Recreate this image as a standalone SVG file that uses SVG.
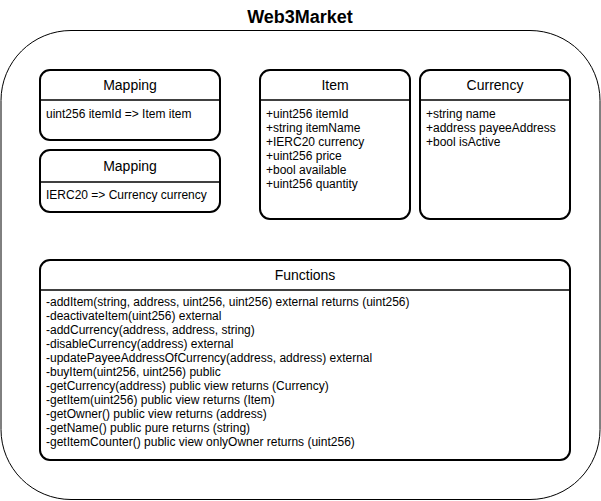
<svg xmlns="http://www.w3.org/2000/svg" width="601" height="501" viewBox="0 0 601 501">
<style>
.box{fill:#fff;stroke:#000;stroke-width:2}
.div{stroke:#000;stroke-width:1.5}
.h{font-family:"Liberation Sans",Arial,sans-serif;font-size:14px;text-anchor:middle;fill:#000}
.t{font-family:"Liberation Sans",Arial,sans-serif;font-size:12px;fill:#000}
.title{font-family:"Liberation Sans",Arial,sans-serif;font-size:18px;font-weight:bold;text-anchor:middle;fill:#000}
</style>
<rect width="601" height="501" fill="#fff"/>
<g id="web3market">
<rect x="1" y="30.5" width="599" height="469" rx="70" ry="70" fill="#fff" stroke="#000" stroke-width="1"/>
<text class="title" x="300" y="23">Web3Market</text>
</g>
<g id="mapping1">
<rect class="box" x="40" y="70" width="180" height="70" rx="10"/>
<line class="div" x1="40" y1="100" x2="220" y2="100"/>
<text class="h" x="130" y="90">Mapping</text>
<text class="t" x="46" y="118">uint256 itemId =&gt; Item item</text>
</g>
<g id="mapping2">
<rect class="box" x="40" y="150" width="180" height="62" rx="10"/>
<line class="div" x1="40" y1="182" x2="220" y2="182"/>
<text class="h" x="130" y="171">Mapping</text>
<text class="t" x="46" y="199">IERC20 =&gt; Currency currency</text>
</g>
<g id="item">
<rect class="box" x="260" y="70" width="150" height="149" rx="10"/>
<line class="div" x1="260" y1="100" x2="410" y2="100"/>
<text class="h" x="335" y="90">Item</text>
<text class="t" x="266" y="118">+uint256 itemId</text>
<text class="t" x="266" y="132">+string itemName</text>
<text class="t" x="266" y="146">+IERC20 currency</text>
<text class="t" x="266" y="160">+uint256 price</text>
<text class="t" x="266" y="174">+bool available</text>
<text class="t" x="266" y="188">+uint256 quantity</text>
</g>
<g id="currency">
<rect class="box" x="420" y="70" width="150" height="149" rx="10"/>
<line class="div" x1="420" y1="100" x2="570" y2="100"/>
<text class="h" x="495" y="90">Currency</text>
<text class="t" x="426" y="118">+string name</text>
<text class="t" x="426" y="132">+address payeeAddress</text>
<text class="t" x="426" y="146">+bool isActive</text>
</g>
<g id="functions">
<rect class="box" x="40" y="260" width="530" height="200" rx="10"/>
<line class="div" x1="40" y1="290" x2="570" y2="290"/>
<text class="h" x="305" y="280">Functions</text>
<text class="t" x="46" y="306">-addItem(string, address, uint256, uint256) external returns (uint256)</text>
<text class="t" x="46" y="320">-deactivateItem(uint256) external</text>
<text class="t" x="46" y="334">-addCurrency(address, address, string)</text>
<text class="t" x="46" y="348">-disableCurrency(address) external</text>
<text class="t" x="46" y="362">-updatePayeeAddressOfCurrency(address, address) external</text>
<text class="t" x="46" y="376">-buyItem(uint256, uint256) public</text>
<text class="t" x="46" y="390">-getCurrency(address) public view returns (Currency)</text>
<text class="t" x="46" y="404">-getItem(uint256) public view returns (Item)</text>
<text class="t" x="46" y="418">-getOwner() public view returns (address)</text>
<text class="t" x="46" y="432">-getName() public pure returns (string)</text>
<text class="t" x="46" y="446">-getItemCounter() public view onlyOwner returns (uint256)</text>
</g>
<g id="connectors"></g>
</svg>
